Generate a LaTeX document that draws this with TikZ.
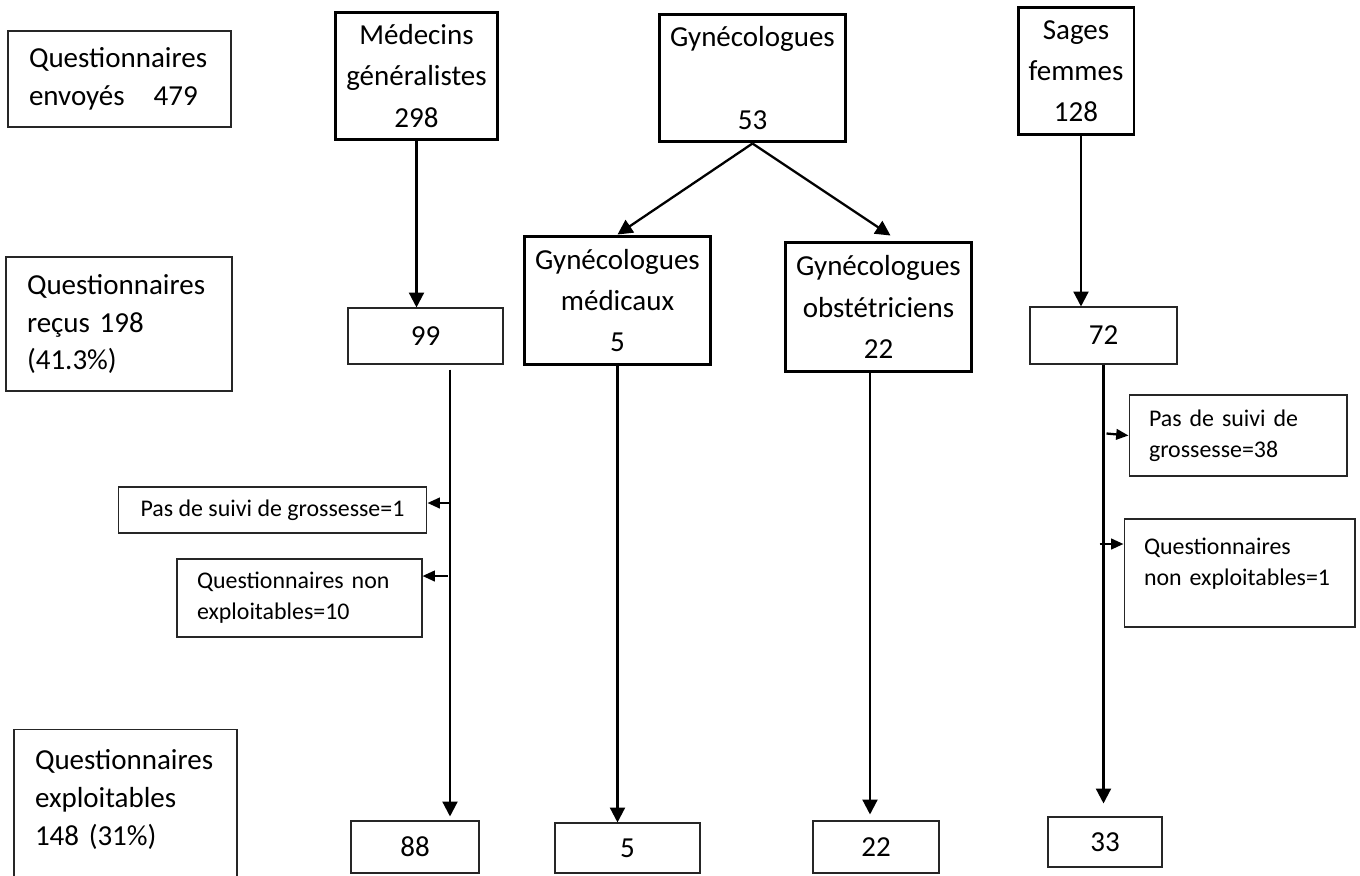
\documentclass[tikz,border=0pt]{standalone}
\usepackage{fontspec}
\setmainfont{Carlito}
\usetikzlibrary{arrows.meta,positioning}

\begin{document}
\begin{tikzpicture}[x=0.02cm,y=-0.02cm,>={Triangle[length=8.5pt,width=8.5pt]},
  groupbox/.style={draw=black,line width=1.7pt,align=center,inner sep=0pt,font=\fontsize{16.5}{23.5}\selectfont},
  countbox/.style={draw=black!85,line width=0.6pt,align=center,inner sep=0pt,font=\fontsize{16.5}{23}\selectfont},
  legendbox/.style={draw=black!85,line width=0.6pt,align=left,inner xsep=0.42cm,inner ysep=0pt,font=\fontsize{16.5}{21.5}\selectfont},
  notebox/.style={draw=black!85,line width=0.6pt,align=left,inner xsep=0.4cm,inner ysep=0pt,font=\fontsize{13.6}{17.5}\selectfont},
  flow/.style={->,line width=1.3pt},
  side/.style={-{Triangle[length=7pt,width=6pt]},line width=1.3pt}]
\useasboundingbox (0,0) rectangle (1360,876);
% legend column
\node[legendbox,text width=3.62cm,minimum height=1.92cm] (envoyes) at (119.5,79) {Questionnaires\\envoyés\quad 479};
\node[legendbox,text width=3.68cm,minimum height=2.68cm] (recus) at (119,324) {Questionnaires\\reçus 198\\(41.3\%)};
\node[legendbox,text width=3.62cm,minimum height=3.12cm,anchor=north] (exploit) at (125.5,729) {Questionnaires\\exploitables\\148 (31\%)\\[-10pt]\mbox{}};
% senders
\node[groupbox,minimum width=3.26cm,minimum height=2.56cm] (mg) at (416.5,76) {Médecins\\généralistes\\298};
\node[groupbox,minimum width=3.74cm,minimum height=2.56cm] (gyn) at (752.5,78) {Gynécologues\\~\\53};
\node[groupbox,minimum width=2.32cm,minimum height=2.56cm] (sf) at (1076,71) {Sages\\femmes\\128};
\node[groupbox,minimum width=3.74cm,minimum height=2.58cm] (gynmed) at (617.5,300.5) {Gynécologues\\médicaux\\5};
\node[groupbox,minimum width=3.74cm,minimum height=2.6cm] (gynobs) at (878.5,307) {Gynécologues\\obstétriciens\\22};
% answers received
\node[countbox,minimum width=3.1cm,minimum height=1.12cm] (n99) at (425.5,336) {99};
\node[countbox,minimum width=2.94cm,minimum height=1.14cm] (n72) at (1103.5,335.5) {72};
% exclusions
\node[notebox,minimum width=6.18cm,minimum height=0.92cm] (suivi1) at (272.5,510) {Pas de suivi de grossesse=1};
\node[notebox,text width=4.1cm,minimum height=1.56cm] (nonexp10) at (299.5,598) {Questionnaires non\\exploitables=10};
\node[notebox,text width=3.56cm,minimum height=1.62cm] (suivi38) at (1238,435.5) {Pas de suivi de\\grossesse=38};
\node[notebox,text width=3.82cm,minimum height=2.16cm] (nonexp1) at (1239.5,573) {Questionnaires\\non exploitables=1\\[-5pt]\mbox{}};
% usable answers
\node[countbox,minimum width=2.56cm,minimum height=1.04cm] (n88) at (415,847) {88};
\node[countbox,minimum width=2.9cm,minimum height=1cm] (n5) at (627.5,848) {5};
\node[countbox,minimum width=2.52cm,minimum height=1.04cm] (n22) at (876,847) {22};
\node[countbox,minimum width=2.28cm,minimum height=1cm] (n33) at (1105,842) {33};
\coordinate (mgline) at (450,0);
\coordinate (obsline) at (870,0);
% arrows
\draw[flow] (mg.south) -- (mg.south |- n99.north);
\draw[flow] (gyn.south) -- (gynmed.north);
\draw[flow] (gyn.south) -- ([xshift=0.24cm,yshift=0.1cm]gynobs.north);
\draw[flow] ([xshift=0.1cm]sf.south) -- ([xshift=0.1cm]sf.south |- n72.north);
\draw[flow,shorten <=0.1cm,shorten >=0.08cm] (n99.south -| mgline) -- (n88.north -| mgline);
\draw[side] ([xshift=0.44cm,yshift=0.14cm]suivi1.east) -- ([yshift=0.14cm]suivi1.east);
\draw[side] ([xshift=0.5cm,yshift=0.44cm]nonexp10.east) -- ([yshift=0.44cm]nonexp10.east);
\draw[flow] (gynmed.south) -- (gynmed.south |- n5.north);
\draw[flow,shorten >=0.12cm] (gynobs.south -| obsline) -- (n22.north -| obsline);
\draw[flow,shorten >=0.26cm] (n72.south) -- (n72.south |- n33.north);
\draw[side] ([xshift=-0.44cm,yshift=0.04cm]suivi38.west) -- (suivi38.west);
\draw[side] ([xshift=-0.48cm,yshift=0.58cm]nonexp1.west) -- ([yshift=0.58cm]nonexp1.west);
\end{tikzpicture}
\end{document}
